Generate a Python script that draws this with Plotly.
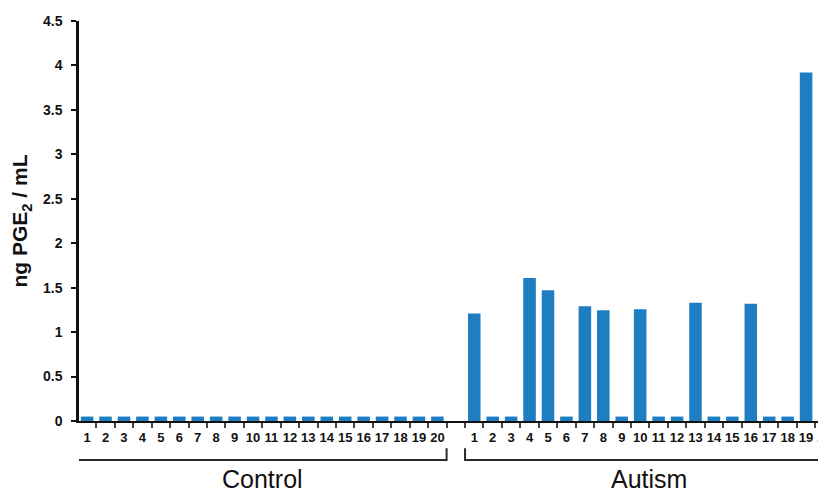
import plotly.graph_objects as go

# ---- data ----
subject_labels = [str(i) for i in range(1, 21)]
control_values = [0.05] * 20
autism_values = [1.21, 0.05, 0.05, 1.61, 1.47, 0.05, 1.29, 1.245, 0.05, 1.256,
                 0.05, 0.05, 1.33, 0.05, 0.05, 1.32, 0.05, 0.05, 3.92, 0.05]
group_names = ["Control", "Autism"]
y_ticks = [0, 0.5, 1, 1.5, 2, 2.5, 3, 3.5, 4, 4.5]

BAR = "#1F7DC1"
FONT = "Arial, Liberation Sans, sans-serif"

control_cats = ["C" + s for s in subject_labels]
autism_cats = ["A" + s for s in subject_labels]
gap_cat = ["gap"]
cats = control_cats + gap_cat + autism_cats
vals = control_values + [None] + autism_values
ticktext = subject_labels + [""] + subject_labels

fig = go.Figure()
fig.add_trace(go.Bar(x=cats, y=vals, marker=dict(color=BAR, line=dict(width=0)),
                     hoverinfo="skip"))

nC = len(control_cats)
nA = len(autism_cats)
c_lo, c_hi = -0.5, nC - 0.5
a_lo, a_hi = nC + 0.5, nC + 1 + nA - 0.5

shapes = []
for lo, hi in [(c_lo, c_hi), (a_lo, a_hi)]:
    shapes.append(dict(type="path", xref="x", yref="paper",
                       path=f"M {lo},-0.068 L {lo},-0.0975 L {hi},-0.0975 L {hi},-0.068",
                       line=dict(color="#2a2a2a", width=2)))

annotations = [
    dict(x=(c_lo + c_hi) / 2, y=-0.145, xref="x", yref="paper", text=group_names[0],
         showarrow=False, font=dict(family=FONT, size=25, color="#111"),
         yanchor="middle", xanchor="center"),
    dict(x=(a_lo + a_hi) / 2, y=-0.145, xref="x", yref="paper", text=group_names[1],
         showarrow=False, font=dict(family=FONT, size=25, color="#111"),
         yanchor="middle", xanchor="center"),
]

# page body has an 8px margin, so the figure is sized to fit the window
fig.update_layout(
    width=818, height=482,
    margin=dict(l=71, r=0, t=13, b=69, autoexpand=False),
    plot_bgcolor="white", paper_bgcolor="white",
    showlegend=False,
    bargap=0.32,
    shapes=shapes,
    annotations=annotations,
    xaxis=dict(
        type="category", categoryorder="array", categoryarray=cats,
        tickmode="array", tickvals=cats, ticktext=ticktext,
        tickson="boundaries", ticks="outside", ticklen=5, tickwidth=1.5,
        tickcolor="#444", showline=True, linecolor="#111", linewidth=1.5,
        showgrid=False, zeroline=False, tickangle=0, automargin=False,
        ticklabelstandoff=4, ticklabeloverflow="allow",
        range=[-0.44, 40.08],
        tickfont=dict(family=FONT, size=13, color="#111", weight="bold"),
        fixedrange=True,
    ),
    yaxis=dict(
        range=[0, 4.5], tickmode="array", tickvals=y_ticks,
        ticktext=[f"{v:g}" for v in y_ticks],
        ticks="outside", ticklen=5, tickwidth=2, tickcolor="#111",
        ticklabelstandoff=6, automargin=False,
        showline=True, linecolor="#111", linewidth=2.5,
        showgrid=False, zeroline=False,
        tickfont=dict(family=FONT, size=14, color="#111", weight="bold"),
        title=dict(text="ng PGE<sub>2</sub> / mL", standoff=10,
                   font=dict(family=FONT, size=21, color="#111", weight="bold")),
        fixedrange=True,
    ),
)

fig.write_html("out.html")
